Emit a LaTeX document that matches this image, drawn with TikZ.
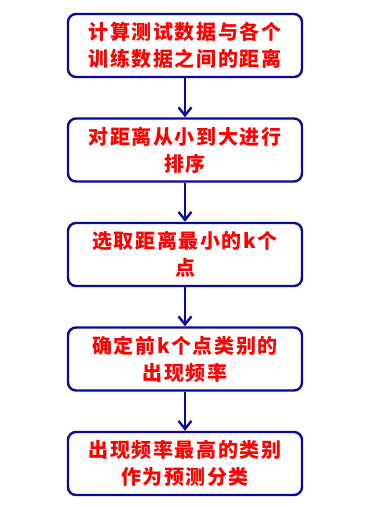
\documentclass[tikz,border=0pt]{standalone}
\usepackage{fontspec}
\newfontfamily\cjk{Noto Sans CJK SC}[LetterSpace=8]
\usetikzlibrary{arrows.meta}
\definecolor{navy}{RGB}{10,10,150}
\definecolor{red}{RGB}{255,0,0}

\begin{document}
\begin{tikzpicture}[x=1pt,y=-1pt]
	\tikzset{line/.style={draw=navy,line width=2.4pt}}
	\tikzset{arrow/.style={line,-{Straight Barb[length=8pt,width=13pt]}}}
	\tikzset{stepbox/.style={line,rounded corners=8pt,minimum width=234pt,minimum height=63pt,inner sep=0pt,align=center,text=red,font=\cjk\bfseries\fontsize{20}{27}\selectfont}}

	\useasboundingbox (0,0) rectangle (375,507);

	\node[stepbox] (s1) at (185, 45.5) {计算测试数据与各个\\训练数据之间的距离};
	\node[stepbox] (s2) at (185, 150) {对距离从小到大进行\\排序};
	\node[stepbox] (s3) at (185, 254.5) {选取距离最小的k个\\点};
	\node[stepbox] (s4) at (185, 359) {确定前k个点类别的\\出现频率};
	\node[stepbox] (s5) at (185, 463.5) {出现频率最高的类别\\作为预测分类};

	\path[arrow] (s1) to (s2);
	\path[arrow] (s2) to (s3);
	\path[arrow] (s3) to (s4);
	\path[arrow] (s4) to (s5);
\end{tikzpicture}
\end{document}
